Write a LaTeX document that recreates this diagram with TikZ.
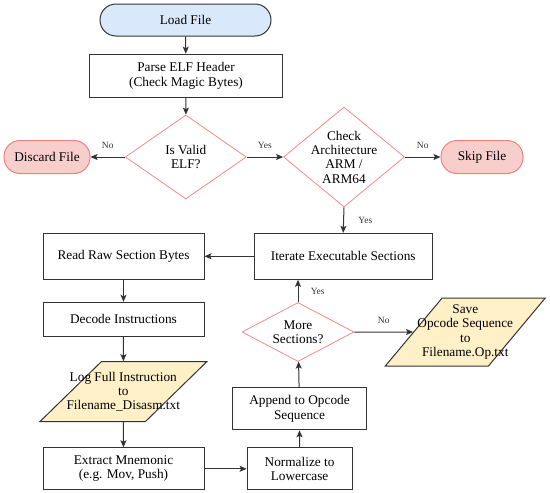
\documentclass[tikz,border=0pt]{standalone}
\usepackage{fontspec}
\setmainfont{Liberation Serif}
\usetikzlibrary{arrows.meta,shapes.geometric}
\definecolor{lineGray}{RGB}{51,51,51}
\definecolor{startFill}{RGB}{218,232,252}
\definecolor{stopFill}{RGB}{248,206,204}
\definecolor{stopLine}{RGB}{236,130,126}
\definecolor{decLine}{RGB}{242,140,140}
\definecolor{ioFill}{RGB}{255,240,200}

\begin{document}
\begin{tikzpicture}[x=1pt, y=-1pt, >={Stealth[length=7pt,width=6pt,inset=1.5pt]},
    every node/.style={font=\fontsize{13.3}{14.3}\selectfont, align=center},
    procbox/.style={rectangle, draw=lineGray, line width=1pt, fill=white, inner sep=2pt},
    startbox/.style={rectangle, rounded corners=16pt, draw=lineGray, line width=1pt, fill=startFill},
    stopbox/.style={rectangle, rounded corners=16pt, draw=stopLine, line width=1pt, fill=stopFill},
    decision/.style={diamond, draw=decLine, line width=0.8pt, fill=white, inner sep=0pt},
    iobox/.style={trapezium, trapezium stretches=true, draw=lineGray, line width=1pt,
      fill=ioFill, inner sep=2pt},
    flow/.style={->, lineGray, line width=1pt},
    answer/.style={font=\fontsize{9.5}{11}\selectfont}]
    \useasboundingbox (0,0) rectangle (550,493);
    % --- top: load and check ---
    \node[startbox, minimum width=171pt, minimum height=32pt] (load) at (185.5,20) {Load File};
    \node[procbox, minimum width=193pt, minimum height=43pt] (parse) at (186,75.7)
      {Parse ELF Header\\(Check Magic Bytes)};
    \node[decision, minimum width=121pt, minimum height=84pt,
      label={center:{Is Valid\\ELF?}}] (valid) at (185.8,157) {};
    \node[stopbox, minimum width=86pt, minimum height=33pt] (discard) at (47,157) {Discard File};
    \node[decision, minimum width=121pt, minimum height=100pt,
      label={center:{Check\\Architecture\\ARM /\\ARM64}}] (arch) at (344,157) {};
    \node[stopbox, minimum width=82pt, minimum height=33pt] (skip) at (482,157) {Skip File};
    % --- section loop ---
    \node[procbox, minimum width=177.6pt, minimum height=46pt] (iter) at (343.2,256.3)
      {Iterate Executable Sections};
    \node[procbox, minimum width=161pt, minimum height=46pt] (read) at (123.5,256.3)
      {Read Raw Section Bytes};
    \node[procbox, minimum width=161pt, minimum height=34pt] (decode) at (123.5,319.3)
      {Decode Instructions};
    \node[iobox, trapezium left angle=73, trapezium right angle=107,
      minimum width=167pt, minimum height=60pt,
      label={center:{Log Full Instruction\\to\\Filename\_Disasm.txt}}] (log) at (123.3,391.7) {\strut};
    \node[procbox, minimum width=161pt, minimum height=42pt] (extract) at (123.5,468.8)
      {Extract Mnemonic\\(e.g. Mov, Push)};
    \node[procbox, minimum width=105pt, minimum height=42pt] (norm) at (299.6,468.8)
      {Normalize to\\Lowercase};
    \node[procbox, minimum width=134pt, minimum height=42pt] (append) at (299.5,408.8)
      {Append to Opcode\\Sequence};
    \node[decision, minimum width=112pt, minimum height=59pt,
      label={center:{More\\Sections?}}] (more) at (298,332) {};
    \node[iobox, trapezium left angle=75, trapezium right angle=105,
      minimum width=160pt, minimum height=68pt,
      label={center:{Save\\Opcode Sequence\\to\\Filename.Op.txt}}] (save) at (465.3,332) {\strut};
    % --- connectors ---
    \draw[flow] (load) -- (parse);
    \draw[flow] (parse) -- (valid);
    \draw[flow] (valid.west) -- node[answer, above=5pt] {No} (discard.east);
    \draw[flow] (valid.east) -- node[answer, above=5pt] {Yes} (arch.west);
    \draw[flow] (arch.east) -- node[answer, above=5pt] {No} (skip.west);
    \draw[flow] (arch.south) -- node[answer, right=11pt] {Yes} (iter.north);
    \draw[flow] (iter.west) -- (read.east);
    \draw[flow] (read) -- (decode);
    \draw[flow] (decode) -- (log);
    \draw[flow] (log) -- (extract);
    \draw[flow] (extract.east) -- (norm.west);
    \draw[flow] (norm) -- (append);
    \draw[flow] (append) -- (more);
    \draw[flow] (more.north) -- node[answer, right=9pt] {Yes} (more.north |- iter.south);
    \draw[flow] (more.east) -- node[answer, above=5pt] {No} (save.west);
\end{tikzpicture}
\end{document}
